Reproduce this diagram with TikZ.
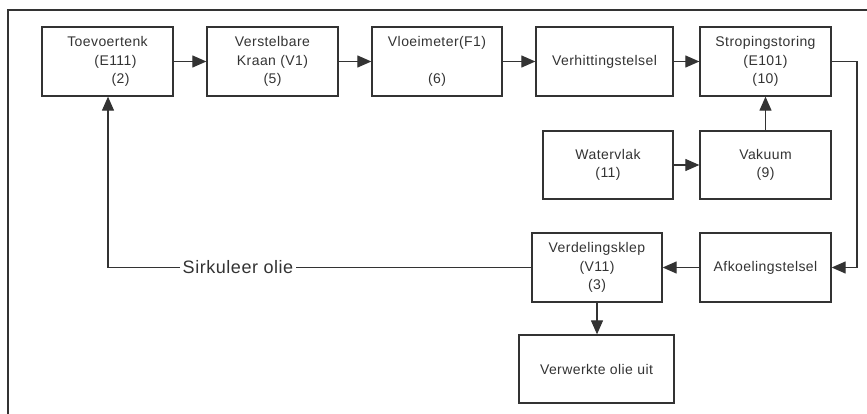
\documentclass[tikz,border=0pt]{standalone}
\usepackage{fontspec}
\setmainfont{Liberation Sans}[LetterSpace=3]
\usetikzlibrary{arrows.meta}
\definecolor{ink}{gray}{0.2}
\tikzset{
  unit/.style={draw=ink, line width=1.3pt, rectangle, minimum width=131pt, minimum height=69pt,
    inner sep=0pt, align=center, text=ink, font=\fontsize{14}{18.5}\selectfont},
  flow/.style={draw=ink, line width=1.2pt, -{Triangle[length=14pt,width=12pt]}},
  pipe/.style={draw=ink, line width=1.2pt}
}
\begin{document}
\begin{tikzpicture}[x=1pt, y=-1pt]
\useasboundingbox (0,0) rectangle (867,414);
% open frame
\draw[pipe] (8,414) -- (8,10) -- (867,10);

% top row
\node[unit] (tank) at (107.5,61.5) {Toevoertenk\\\hspace*{16pt}(E111)\\\hspace*{26pt}(2)};
\node[unit] (kraan) at (272.5,61.5) {Verstelbare\\Kraan (V1)\\(5)};
\node[unit, minimum width=130pt] (vloei) at (437,61.5) {Vloeimeter(F1)\\\mbox{}\\(6)};
\node[unit, minimum width=137pt] (hit) at (604.5,61.5) {Verhittingstelsel};
\node[unit] (strop) at (765.5,61.5) {Stropingstoring\\(E101)\\(10)};

% middle row
\node[unit, minimum width=130pt, minimum height=68pt] (water) at (608,165) {Watervlak\\(11)};
\node[unit, minimum height=68pt] (vak) at (765.5,165) {Vakuum\\(9)};

% lower rows
\node[unit] (afk) at (765.5,267.5) {Afkoelingstelsel};
\node[unit, minimum width=130pt] (klep) at (597,267.5) {Verdelingsklep\\(V11)\\(3)};
\node[unit, minimum width=155pt, minimum height=68pt] (uit) at (596.5,369) {Verwerkte olie uit};

% connectors
\draw[flow] (tank) -- (kraan);
\draw[flow] (kraan) -- (vloei);
\draw[flow] (vloei) -- (hit);
\draw[flow] (hit) -- (strop);
\draw[flow] (water) -- (vak);
\draw[flow] (vak) -- (strop);
\coordinate (bendA) at (857,61.5);
\coordinate (bendB) at (857,267.5);
\draw[flow] (strop.east) -- (bendA) -- (bendB) -- (afk.east);
\draw[flow] (afk) -- (klep);
\draw[flow] (klep) -- (klep.south |- uit.north);

% recirculation back to the feed tank
\coordinate (bendC) at (108,267.5);
\draw[flow] (klep.west) -- (bendC) -- (bendC |- tank.south);
\node[fill=white, text=ink, inner xsep=3pt, inner ysep=2pt, font=\fontsize{18}{20}\selectfont]
  (lbl) at (238,267.5) {Sirkuleer olie};
\end{tikzpicture}
\end{document}
